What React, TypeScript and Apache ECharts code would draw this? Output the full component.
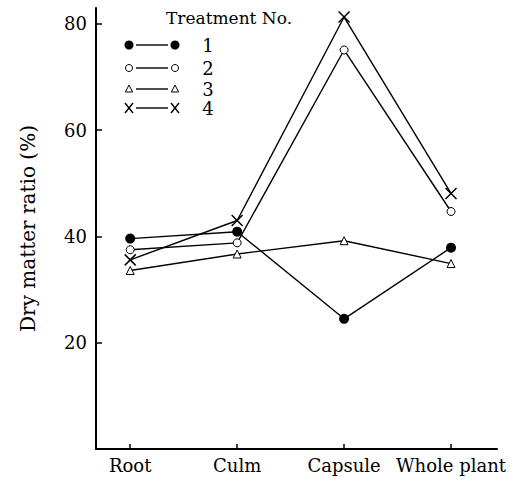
import React, { useEffect, useRef } from "react";
import * as echarts from "echarts";

const categories = ["Root", "Culm", "Capsule", "Whole plant"];
const treatment1 = [39.6, 40.9, 24.5, 37.9];
const treatment2 = [37.5, 38.8, 75.1, 44.7];
const treatment3 = [33.6, 36.7, 39.2, 34.9];
const treatment4 = [35.6, 43.0, 81.3, 48.1];
const yTicks = [20, 40, 60, 80];
const legendTitle = "Treatment No.";
const legendNames = ["1", "2", "3", "4"];

const FONT = "DejaVu Serif";
const X_PATH = "path://M0,0L10,10M10,0L0,10";

export default function App() {
  const ref = useRef<HTMLDivElement>(null);
  useEffect(() => {
    document.body.style.margin = "0";
    if (!ref.current) return;
    const chart = echarts.init(ref.current, null, { renderer: "svg" });
    const toData = (arr: number[]) => arr.map((v, i) => [i, v]);
    const lineStyle = { color: "#000", width: 1.4 };

    const rowsY = [45, 68, 89, 108];
    const lx1 = 129, lx2 = 175;
    const legendGraphics: any[] = [
      {
        type: "text",
        left: 166,
        top: 9,
        style: { text: legendTitle, font: `17px "${FONT}"`, fill: "#000" },
      },
    ];
    rowsY.forEach((y, i) => {
      legendGraphics.push({
        type: "line",
        shape: { x1: lx1 + 7, y1: y, x2: lx2 - 7, y2: y },
        style: { stroke: "#000", lineWidth: 1.4 },
      });
      [lx1, lx2].forEach((x) => {
        if (i === 0) {
          legendGraphics.push({ type: "circle", shape: { cx: x, cy: y, r: 4.5 }, style: { fill: "#000" } });
        } else if (i === 1) {
          legendGraphics.push({ type: "circle", shape: { cx: x, cy: y, r: 3.5 }, style: { fill: "#fff", stroke: "#000", lineWidth: 1 } });
        } else if (i === 2) {
          legendGraphics.push({
            type: "polygon",
            shape: { points: [[x, y - 4], [x - 3.6, y + 3], [x + 3.6, y + 3]] },
            style: { fill: "#fff", stroke: "#000", lineWidth: 1 },
          });
        } else {
          legendGraphics.push({ type: "line", shape: { x1: x - 4, y1: y - 5, x2: x + 4, y2: y + 5 }, style: { stroke: "#000", lineWidth: 1.4 } });
          legendGraphics.push({ type: "line", shape: { x1: x + 4, y1: y - 5, x2: x - 4, y2: y + 5 }, style: { stroke: "#000", lineWidth: 1.4 } });
        }
      });
      legendGraphics.push({
        type: "text",
        x: 208,
        y: y,
        style: { text: legendNames[i], font: `18px "${FONT}"`, fill: "#000", align: "center", verticalAlign: "middle" },
      });
    });

    const option: any = {
      animation: false,
      backgroundColor: "#fff",
      grid: { left: 96, right: 28, top: 8, bottom: 32, containLabel: false },
      xAxis: {
        type: "value",
        min: -0.32,
        max: 3.43,
        splitLine: { show: false },
        axisLine: { show: true, onZero: false, lineStyle: { color: "#000", width: 2 } },
        axisTick: { show: true, inside: true, length: 5, customValues: [0, 1, 2, 3], lineStyle: { color: "#000", width: 1.5 } },
        axisLabel: {
          customValues: [0, 1, 2, 3],
          formatter: (v: number) => categories[Math.round(v)] ?? "",
          color: "#000",
          fontFamily: FONT,
          fontSize: 18,
          margin: 7,
        },
      },
      yAxis: {
        type: "value",
        min: 0,
        max: 83,
        name: "Dry matter ratio (%)",
        nameLocation: "middle",
        nameGap: 58,
        nameTextStyle: { color: "#000", fontFamily: FONT, fontSize: 20 },
        splitLine: { show: false },
        axisLine: { show: true, onZero: false, lineStyle: { color: "#000", width: 2 } },
        axisTick: { show: true, inside: true, length: 6, customValues: yTicks, lineStyle: { color: "#000", width: 1.5 } },
        axisLabel: { customValues: yTicks, color: "#000", fontFamily: FONT, fontSize: 18, margin: 9 },
      },
      graphic: legendGraphics,
      series: [
        {
          name: "1",
          type: "line",
          data: toData(treatment1),
          symbol: "circle",
          symbolSize: 10,
          itemStyle: { color: "#000" },
          lineStyle,
          z: 3,
        },
        {
          name: "2",
          type: "line",
          data: toData(treatment2),
          symbol: "circle",
          symbolSize: 8,
          showAllSymbol: true,
          itemStyle: { color: "#fff", borderColor: "#000", borderWidth: 1 },
          lineStyle,
          z: 3,
        },
        {
          name: "3",
          type: "line",
          data: toData(treatment3),
          symbol: "triangle",
          symbolSize: 8,
          itemStyle: { color: "#fff", borderColor: "#000", borderWidth: 1 },
          lineStyle,
          z: 3,
        },
        {
          name: "4",
          type: "line",
          data: toData(treatment4),
          symbol: X_PATH,
          symbolSize: 11,
          itemStyle: { color: "transparent", borderColor: "#000", borderWidth: 1.5 },
          lineStyle,
          z: 3,
        },
      ],
    };
    chart.setOption(option);
    return () => chart.dispose();
  }, []);
  return <div ref={ref} style={{ width: 525, height: 481 }} />;
}
